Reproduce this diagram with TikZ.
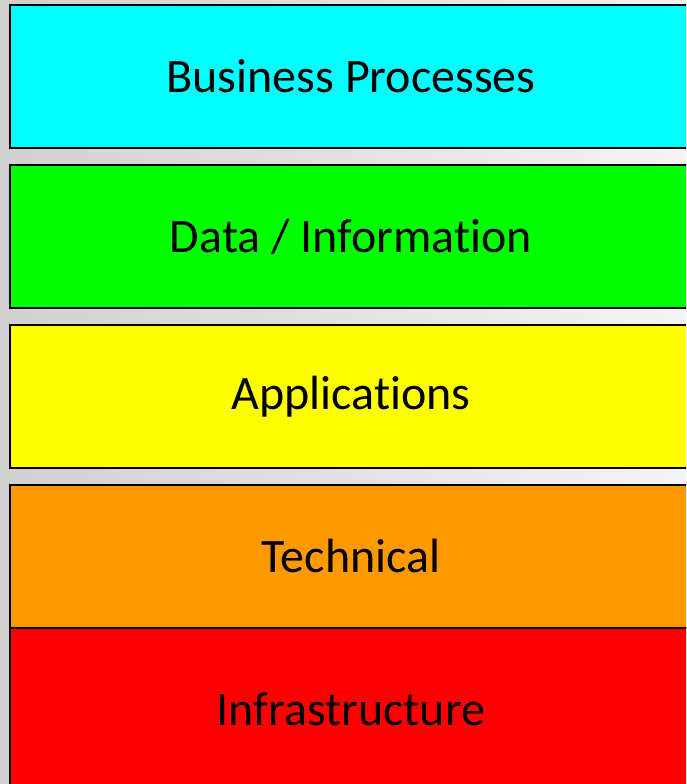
\documentclass[tikz,border=0pt]{standalone}
\usepackage{fontspec}
\setmainfont[Ligatures={NoCommon}]{Carlito}
\usepackage{tikz}
\definecolor{bizcyan}{HTML}{00FFFF}
\definecolor{datagreen}{HTML}{00FF00}
\definecolor{appyellow}{HTML}{FFFF00}
\definecolor{techorange}{HTML}{FF9900}
\definecolor{infrared}{HTML}{FF0000}
\definecolor{bgleft}{HTML}{D0D0D0}
\definecolor{bgright}{HTML}{F4F4F4}
\tikzstyle{layer} = [rectangle, draw, line width=1.6pt, text centered, minimum width=682pt, minimum height=143pt, font=\fontsize{48}{58}\selectfont]
\begin{document}
\begin{tikzpicture}
        \useasboundingbox (0,0) rectangle (686pt,-784pt);
        \clip (0,0) rectangle (686pt,-784pt);
        \shade [left color=bgleft, right color=bgright] (0,0) rectangle (686pt,-784pt);
        % the five layers, top to bottom
        \node (business) [layer, fill=bizcyan] at (351pt,-76.5pt) {Business Processes};
        \node (data) [layer, fill=datagreen, below of = business, node distance=160pt] {Data / Information};
        \node (apps) [layer, fill=appyellow, below of = data, node distance=160pt] {Applications};
        \node (tech) [layer, fill=techorange, below of = apps, node distance=160pt] {Technical};
        \node (infra) [layer, fill=infrared, below of = tech, node distance=153pt, minimum height=163pt] {Infrastructure};
    \end{tikzpicture}
\end{document}
